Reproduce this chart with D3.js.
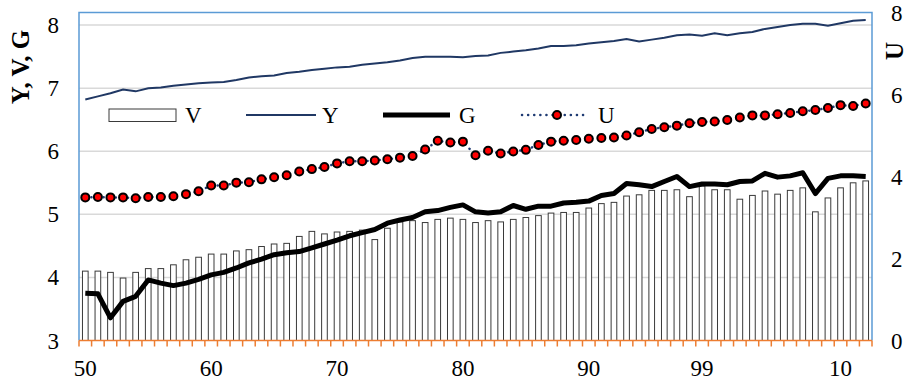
<!DOCTYPE html>
<html lang="en">
<head>
  <meta charset="UTF-8">
  <title>Y, V, G and U</title>
  <script src="https://d3js.org/d3.v7.min.js"></script>
  <style>
    body {
      margin: 0;
      background: white;
    }
    svg {
      display: block;
      font-family: "Liberation Serif", "Times New Roman", serif;
    }
    .tick-label {
      font-size: 23px;
      fill: #000;
    }
    .legend text {
      font-size: 23px;
    }
  </style>
</head>
<body>
  <svg width="909" height="385"></svg>

  <script>
    const years = [
      1950, 1951, 1952, 1953, 1954, 1955, 1956, 1957, 1958, 1959,
      1960, 1961, 1962, 1963, 1964, 1965, 1966, 1967, 1968, 1969,
      1970, 1971, 1972, 1973, 1974, 1975, 1976, 1977, 1978, 1979,
      1980, 1981, 1982, 1983, 1984, 1985, 1986, 1987, 1988, 1989,
      1990, 1991, 1992, 1993, 1994, 1995, 1996, 1997, 1998, 1999,
      2000, 2001, 2002, 2003, 2004, 2005, 2006, 2007, 2008, 2009,
      2010, 2011, 2012
    ];

    // left axis series
    const V = [
      4.10, 4.10, 4.08, 3.99, 4.08, 4.14, 4.14, 4.20, 4.28, 4.32,
      4.37, 4.37, 4.42, 4.44, 4.49, 4.53, 4.54, 4.65, 4.73, 4.69,
      4.72, 4.73, 4.75, 4.60, 4.78, 4.88, 4.90, 4.87, 4.92, 4.94,
      4.92, 4.87, 4.90, 4.88, 4.92, 4.95, 4.98, 5.02, 5.03, 5.03,
      5.10, 5.17, 5.19, 5.29, 5.31, 5.38, 5.38, 5.39, 5.28, 5.45,
      5.39, 5.39, 5.24, 5.30, 5.37, 5.32, 5.38, 5.42, 5.04, 5.26,
      5.42, 5.50, 5.53
    ];
    const Y = [
      6.82, 6.87, 6.92, 6.98, 6.95, 7.00, 7.01, 7.04, 7.06, 7.08,
      7.09, 7.10, 7.13, 7.17, 7.19, 7.20, 7.24, 7.26, 7.29, 7.31,
      7.33, 7.34, 7.37, 7.39, 7.41, 7.44, 7.48, 7.50, 7.50, 7.50,
      7.49, 7.51, 7.52, 7.56, 7.58, 7.60, 7.63, 7.67, 7.67, 7.68,
      7.71, 7.73, 7.75, 7.78, 7.74, 7.77, 7.80, 7.84, 7.85, 7.83,
      7.87, 7.84, 7.87, 7.89, 7.94, 7.97, 8.00, 8.02, 8.02, 7.99,
      8.03, 8.07, 8.08
    ];
    const G = [
      3.75, 3.74, 3.36, 3.62, 3.70, 3.96, 3.91, 3.87, 3.91, 3.97,
      4.04, 4.08, 4.15, 4.23, 4.29, 4.36, 4.39, 4.41, 4.47, 4.53,
      4.59, 4.66, 4.71, 4.76, 4.86, 4.91, 4.95, 5.04, 5.06, 5.11,
      5.15, 5.04, 5.02, 5.04, 5.14, 5.08, 5.13, 5.13, 5.18, 5.19,
      5.21, 5.30, 5.33, 5.49, 5.47, 5.44, 5.52, 5.60, 5.44, 5.48,
      5.48, 5.47, 5.52, 5.53, 5.65, 5.59, 5.61, 5.66, 5.33, 5.57,
      5.61, 5.61, 5.60
    ];
    // right axis series
    const U = [
      3.49, 3.50, 3.49, 3.49, 3.47, 3.50, 3.50, 3.52, 3.57, 3.64,
      3.78, 3.78, 3.85, 3.86, 3.93, 3.98, 4.03, 4.12, 4.18, 4.23,
      4.32, 4.37, 4.37, 4.39, 4.42, 4.46, 4.50, 4.66, 4.87, 4.83,
      4.85, 4.52, 4.63, 4.56, 4.61, 4.65, 4.77, 4.85, 4.87, 4.89,
      4.92, 4.94, 4.95, 5.00, 5.08, 5.16, 5.20, 5.24, 5.30, 5.33,
      5.34, 5.38, 5.44, 5.49, 5.49, 5.52, 5.55, 5.59, 5.62, 5.67,
      5.74, 5.72, 5.78
    ];

    const leftTicks = [3, 4, 5, 6, 7, 8];
    const rightTicks = [0, 2, 4, 6, 8];
    const tickYears = [1950, 1960, 1970, 1980, 1990, 1999, 2010];
    const tickLabels = ["50", "60", "70", "80", "90", "99", "10"];

    const margin = { top: 12.5, right: 37, bottom: 44.5, left: 79 };
    const width = 909, height = 385;
    const svg = d3.select("svg");

    const x = d3.scaleBand()
      .domain(years)
      .range([margin.left, width - margin.right])
      .padding(0);
    const yL = d3.scaleLinear().domain([3, 8.2]).range([height - margin.bottom, margin.top]);
    const yR = d3.scaleLinear().domain([0, 8]).range([height - margin.bottom, margin.top]);

    const x0 = margin.left, x1 = width - margin.right;
    const yTop = margin.top, yBot = height - margin.bottom;
    const cx = (d, i) => x(years[i]) + x.bandwidth() / 2;

    // gridlines
    svg.append("g")
      .selectAll("line")
      .data(leftTicks.filter(t => t > 3))
      .join("line")
      .attr("x1", x0).attr("x2", x1)
      .attr("y1", d => yL(d)).attr("y2", d => yL(d))
      .attr("stroke", "#d9d9d9")
      .attr("stroke-width", 1.5);

    // plot frame (blue)
    svg.append("path")
      .attr("d", `M${x0},${yBot}V${yTop}H${x1}V${yBot}`)
      .attr("fill", "none")
      .attr("stroke", "#5b9bd5")
      .attr("stroke-width", 1.5);

    // V bars
    const barW = x.bandwidth() * 0.45;
    svg.append("g")
      .selectAll("rect")
      .data(V)
      .join("rect")
      .attr("x", (d, i) => cx(d, i) - barW / 2)
      .attr("y", d => yL(d))
      .attr("width", barW)
      .attr("height", d => yBot - yL(d))
      .attr("fill", "white")
      .attr("stroke", "#3a3a3a")
      .attr("stroke-width", 1);

    // Y line
    svg.append("path")
      .datum(Y)
      .attr("fill", "none")
      .attr("stroke", "#203864")
      .attr("stroke-width", 2)
      .attr("d", d3.line().x(cx).y(d => yL(d)));

    // G line
    svg.append("path")
      .datum(G)
      .attr("fill", "none")
      .attr("stroke", "#000")
      .attr("stroke-width", 5)
      .attr("stroke-linejoin", "round")
      .attr("d", d3.line().x(cx).y(d => yL(d)));

    // U dotted line + markers
    svg.append("path")
      .datum(U)
      .attr("fill", "none")
      .attr("stroke", "#1f3b73")
      .attr("stroke-width", 2.5)
      .attr("stroke-linecap", "round")
      .attr("stroke-dasharray", "0.1 6")
      .attr("d", d3.line().x(cx).y(d => yR(d)));

    svg.append("g")
      .selectAll("circle")
      .data(U)
      .join("circle")
      .attr("cx", cx)
      .attr("cy", d => yR(d))
      .attr("r", 4)
      .attr("fill", "#ff0000")
      .attr("stroke", "#000")
      .attr("stroke-width", 2);

    // x axis (orange)
    const xAxis = svg.append("g");
    xAxis.append("line")
      .attr("x1", x0).attr("x2", x1)
      .attr("y1", yBot).attr("y2", yBot)
      .attr("stroke", "#ed7d31")
      .attr("stroke-width", 1.5);
    xAxis.selectAll("line.tk")
      .data(years.map(y => x(y)).concat([x1]))
      .join("line")
      .attr("class", "tk")
      .attr("x1", d => d).attr("x2", d => d)
      .attr("y1", yBot).attr("y2", yBot + 6)
      .attr("stroke", "#ed7d31")
      .attr("stroke-width", 1.5);
    xAxis.selectAll("text")
      .data(tickYears)
      .join("text")
      .attr("class", "tick-label")
      .attr("x", d => x(d) + x.bandwidth() / 2)
      .attr("y", 376)
      .attr("text-anchor", "middle")
      .text((d, i) => tickLabels[i]);

    // left axis labels
    svg.append("g")
      .selectAll("text")
      .data(leftTicks)
      .join("text")
      .attr("class", "tick-label")
      .attr("x", 59)
      .attr("y", d => yL(d))
      .attr("dy", "0.35em")
      .attr("text-anchor", "end")
      .text(d => d);

    // right axis labels
    svg.append("g")
      .selectAll("text")
      .data(rightTicks)
      .join("text")
      .attr("class", "tick-label")
      .attr("x", 891)
      .attr("y", d => yR(d))
      .attr("dy", "0.35em")
      .attr("text-anchor", "start")
      .text(d => d);

    // axis titles
    svg.append("text")
      .attr("transform", "translate(29,67) rotate(-90)")
      .attr("text-anchor", "middle")
      .style("font-size", "25px")
      .style("font-weight", "bold")
      .text("Y, V, G");
    svg.append("text")
      .attr("transform", "translate(903,51) rotate(-90)")
      .attr("text-anchor", "middle")
      .style("font-size", "25px")
      .style("font-weight", "bold")
      .text("U");

    // legend
    const legend = svg.append("g").attr("class", "legend");
    const ly = 115;
    legend.append("rect")
      .attr("x", 109).attr("y", ly - 6)
      .attr("width", 67).attr("height", 12.5)
      .attr("fill", "white").attr("stroke", "#3a3a3a").attr("stroke-width", 1);
    legend.append("text").attr("x", 185).attr("y", ly + 7.5).text("V");

    legend.append("line")
      .attr("x1", 246).attr("x2", 316).attr("y1", ly).attr("y2", ly)
      .attr("stroke", "#203864").attr("stroke-width", 2);
    legend.append("text").attr("x", 322).attr("y", ly + 7.5).text("Y");

    legend.append("line")
      .attr("x1", 383).attr("x2", 450).attr("y1", ly).attr("y2", ly)
      .attr("stroke", "#000").attr("stroke-width", 5);
    legend.append("text").attr("x", 459).attr("y", ly + 7.5).text("G");

    legend.append("line")
      .attr("x1", 522).attr("x2", 586).attr("y1", ly).attr("y2", ly)
      .attr("stroke", "#1f3b73").attr("stroke-width", 2.5)
      .attr("stroke-linecap", "round").attr("stroke-dasharray", "0.1 6");
    legend.append("circle")
      .attr("cx", 557).attr("cy", ly).attr("r", 4)
      .attr("fill", "#ff0000").attr("stroke", "#000").attr("stroke-width", 2);
    legend.append("text").attr("x", 598).attr("y", ly + 7.5).text("U");
  </script>
</body>
</html>
